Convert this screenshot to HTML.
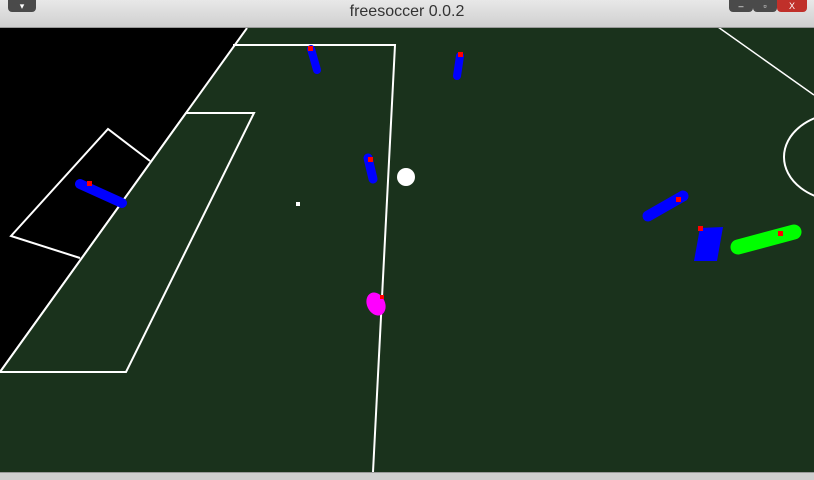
<!DOCTYPE html>
<html><head><meta charset="utf-8"><style>
body{margin:0;width:814px;height:479px;overflow:hidden;background:#1a321c;font-family:"Liberation Sans","DejaVu Sans",sans-serif}
#title{position:absolute;left:0;top:0;width:814px;height:27px;background:linear-gradient(#e8e8e8,#cfcfcf);border-bottom:1px solid #999}
#title span{position:absolute;left:0;width:814px;top:3px;text-align:center;font-size:16px;color:#333}
.btn{position:absolute;top:0;height:12px;background:#4a4a4a;border-radius:0 0 4px 4px;color:#fff;font-size:9px;text-align:center;line-height:12px}
#bottom{position:absolute;left:0;top:472px;width:814px;height:7px;background:#cfcfcf;border-top:1px solid #999}
</style></head><body>
<div id="title">
<div class="btn" style="left:8px;width:28px">▾</div>
<span>freesoccer 0.0.2</span>
<div class="btn" style="left:729px;width:24px">–</div>
<div class="btn" style="left:753px;width:24px">▫</div>
<div class="btn" style="left:777px;width:30px;background:#c0302a">X</div>
</div>
<svg style="position:absolute;left:0;top:28px" width="814" height="444" viewBox="0 28 814 444">
<rect x="0" y="28" width="814" height="444" fill="#1a321c"/>
<polygon points="0,28 247,28 0,372" fill="#000"/>
<g stroke="#fff" stroke-width="2" fill="none">
<line x1="247" y1="28" x2="0" y2="372"/>
<polygon points="186,113 254,113 126,372 0,372" fill="#1a321c"/>
<polyline points="150,161 108,129 11,236 80,258"/>
<polyline points="233,45 395,45 373,472"/>
<line x1="718" y1="27" x2="814" y2="95" stroke-width="1.5"/>
<ellipse cx="842" cy="157" rx="58" ry="44"/>
</g>
<rect x="296" y="202" width="4" height="4" fill="#fff"/>
<circle cx="406" cy="177" r="9" fill="#fff"/>
<g stroke="#0000ff" stroke-linecap="round">
<line x1="311" y1="49" x2="317" y2="70" stroke-width="8"/>
<line x1="460" y1="56" x2="457" y2="76" stroke-width="8"/>
<line x1="368" y1="158" x2="373" y2="179" stroke-width="9"/>
<line x1="80" y1="184" x2="122" y2="203" stroke-width="10"/>
<line x1="648" y1="216" x2="683" y2="196" stroke-width="11"/>
</g>
<polygon points="700,228 723,227 717,261 694,261" fill="#0000ff"/>
<line x1="738" y1="247" x2="794" y2="232" stroke="#00ff00" stroke-width="15" stroke-linecap="round"/>
<ellipse cx="376" cy="304" rx="9" ry="12" transform="rotate(-25 376 304)" fill="#ff00ff"/>
<g fill="#ff0000">
<rect x="308" y="46" width="5" height="5"/><rect x="458" y="52" width="5" height="5"/><rect x="368" y="157" width="5" height="5"/>
<rect x="87" y="181" width="5" height="5"/><rect x="676" y="197" width="5" height="5"/><rect x="698" y="226" width="5" height="5"/>
<rect x="778" y="231" width="5" height="5"/><rect x="380" y="295" width="4" height="4"/>
</g>
</svg>
<div id="bottom"></div>
</body></html>
